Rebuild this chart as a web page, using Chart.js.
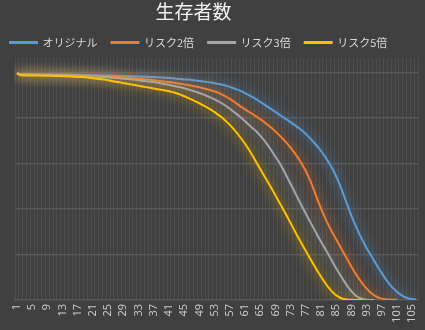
<!DOCTYPE html>
<html>
<head>
    <meta charset="utf-8">
    <title>生存者数</title>
    <script src="https://cdn.jsdelivr.net/npm/chart.js"></script>
    <style>
        html, body {
            margin: 0;
            padding: 0;
            background: #404040;
        }
        .wrap {
            position: relative;
            width: 425px;
            height: 330px;
        }
        .title {
            position: absolute;
            top: -2px;
            left: 0;
            width: 387px;
            text-align: center;
            font-family: "Noto Sans CJK JP", sans-serif;
            font-size: 19px;
            color: #f2f2f2;
            line-height: 26px;
        }
    </style>
</head>
<body>
    <div class="wrap">
        <div class="title">生存者数</div>
        <canvas id="lifeChart"></canvas>
    </div>

    <script>
        // 年齢 1〜106
        const ages = [];
        for (let a = 1; a <= 106; a++) ages.push(String(a));

        const yGridValues = [20000, 40000, 60000, 80000, 100000];

        const original = [
            99600, 99400, 99300, 99300, 99300, 99200, 99200, 99200, 99200, 99200,
            99100, 99100, 99100, 99100, 99000, 99000, 99000, 98900, 98900, 98900,
            98800, 98800, 98800, 98700, 98700, 98700, 98600, 98600, 98500, 98500,
            98400, 98400, 98300, 98200, 98200, 98100, 98000, 97900, 97800, 97700,
            97600, 97500, 97300, 97200, 97000, 96900, 96700, 96500, 96300, 96100,
            95900, 95600, 95300, 95000, 94600, 94200, 93700, 93100, 92500, 91800,
            91000, 90100, 89200, 88200, 87100, 86000, 84900, 83800, 82700, 81500,
            80400, 79300, 78200, 77000, 75800, 74500, 73000, 71300, 69500, 67600,
            65500, 63200, 60600, 57700, 54300, 50400, 46000, 41400, 37000, 33000,
            29300, 25900, 22800, 20000, 17200, 14400, 11700, 9200, 7000, 5100,
            3500, 2200, 1300, 700, 400, 200
        ];

        const risk2 = [
            99600, 99300, 99200, 99200, 99100, 99100, 99100, 99000, 99000, 99000,
            98900, 98900, 98900, 98800, 98800, 98700, 98700, 98600, 98600, 98500,
            98500, 98400, 98400, 98300, 98200, 98100, 98000, 97900, 97800, 97700,
            97600, 97500, 97300, 97200, 97000, 96800, 96600, 96400, 96200, 96000,
            95800, 95600, 95300, 95100, 94800, 94500, 94200, 93900, 93500, 93100,
            92700, 92200, 91700, 91100, 90300, 89400, 88400, 87300, 86100, 84900,
            83800, 82700, 81700, 80600, 79500, 78300, 77000, 75600, 74100, 72500,
            70800, 69000, 67000, 64800, 62400, 59700, 56700, 53000, 49000, 44500,
            40200, 36300, 32800, 29600, 26600, 23600, 20600, 17600, 14600, 11800,
            9300, 7000, 5000, 3300, 2000, 1100, 600, 300, 200, 100,
            100
        ];

        const risk3 = [
            99600, 99200, 99100, 99100, 99000, 99000, 98900, 98900, 98900, 98800,
            98800, 98700, 98700, 98700, 98600, 98600, 98500, 98500, 98400, 98300,
            98200, 98200, 98100, 98000, 97900, 97700, 97600, 97500, 97300, 97200,
            97000, 96800, 96600, 96400, 96200, 96000, 95800, 95500, 95200, 94900,
            94600, 94200, 93900, 93500, 93100, 92600, 92100, 91600, 91000, 90400,
            89700, 89000, 88200, 87300, 86400, 85300, 84100, 82800, 81500, 80100,
            78600, 77100, 75500, 74100, 72300, 70300, 68100, 65600, 63000, 60600,
            57500, 54300, 51000, 47700, 44400, 41100, 37900, 34800, 31700, 28600,
            25600, 22700, 19900, 16800, 13900, 11100, 8400, 5900, 3800, 2100,
            1000, 400, 100, 0, 0
        ];

        const risk5 = [
            99600, 98800, 98700, 98700, 98700, 98700, 98700, 98600, 98600, 98600,
            98500, 98500, 98400, 98400, 98300, 98200, 98100, 98000, 97900, 97700,
            97500, 97300, 97100, 96900, 96600, 96300, 96000, 95700, 95400, 95100,
            94800, 94500, 94200, 93900, 93600, 93300, 93000, 92700, 92400, 92100,
            91800, 91400, 90900, 90300, 89600, 88900, 88100, 87300, 86500, 85600,
            84700, 83700, 82600, 81400, 80100, 78600, 77000, 75200, 73200, 71000,
            68700, 66200, 63400, 60500, 57600, 54700, 51900, 49000, 46000, 43000,
            40000, 36900, 33800, 30600, 27500, 24500, 21500, 18600, 15700, 12900,
            10200, 7700, 5400, 3500, 2000, 1000, 400, 200, 100, 0,
            0, 0
        ];

        const seriesNames = ['オリジナル', 'リスク2倍', 'リスク3倍', 'リスク5倍'];
        const seriesColors = ['#5B9BD5', '#ED7D31', '#A5A5A5', '#FFC000'];
        const seriesData = [original, risk2, risk3, risk5];

        // 線の周りをぼかして光らせる
        const glowPlugin = {
            id: 'glow',
            beforeDatasetDraw(chart, args) {
                const ctx = chart.ctx;
                ctx.save();
                ctx.shadowColor = args.meta.dataset.options.borderColor;
                ctx.shadowBlur = 12;
            },
            afterDatasetDraw(chart) {
                chart.ctx.restore();
            }
        };

        const ctx = document.getElementById('lifeChart');
        new Chart(ctx, {
            type: 'line',
            data: {
                labels: ages,
                datasets: seriesData.map((d, i) => ({
                    label: seriesNames[i],
                    data: d,
                    borderColor: seriesColors[i],
                    backgroundColor: seriesColors[i],
                    borderWidth: 2,
                    pointRadius: 0,
                    tension: 0,
                    order: 4 - i
                }))
            },
            options: {
                responsive: true,
                maintainAspectRatio: false,
                animation: false,
                layout: {
                    padding: { top: 23, left: -4, right: 7, bottom: 0 }
                },
                plugins: {
                    legend: {
                        position: 'top',
                        align: 'start',
                        labels: {
                            boxWidth: 27,
                            boxHeight: 1,
                            padding: 14,
                            color: '#d9d9d9',
                            font: { family: '"Noto Sans CJK JP", sans-serif', size: 11 },
                            sort: (a, b) => a.datasetIndex - b.datasetIndex
                        }
                    },
                    tooltip: { enabled: false }
                },
                scales: {
                    x: {
                        offset: true,
                        grid: {
                            offset: true,
                            color: 'rgba(255,255,255,0.07)',
                            drawTicks: false
                        },
                        border: { display: true, color: '#575757', width: 1.5 },
                        ticks: {
                            autoSkip: false,
                            minRotation: 90,
                            maxRotation: 90,
                            padding: 4,
                            color: '#c8c8c8',
                            font: { family: '"Noto Sans", sans-serif', size: 11 },
                            callback: function(value, index) {
                                return index % 4 === 0 ? ages[index] : '';
                            }
                        },
                        afterFit: function(scale) {
                            scale.height = 30;
                            scale.paddingLeft = 0;
                            scale.paddingRight = 0;
                        }
                    },
                    y: {
                        display: true,
                        min: 0,
                        max: 106400,
                        ticks: {
                            display: false
                        },
                        afterBuildTicks: function(scale) {
                            scale.ticks = yGridValues.map(v => ({ value: v }));
                        },
                        grid: {
                            drawTicks: false,
                            lineWidth: 1.5,
                            color: '#575757'
                        },
                        border: { display: true, color: 'rgba(0,0,0,0)' },
                        afterFit: function(scale) {
                            scale.width = 19;
                        }
                    }
                }
            },
            plugins: [glowPlugin]
        });
    </script>
</body>
</html>
